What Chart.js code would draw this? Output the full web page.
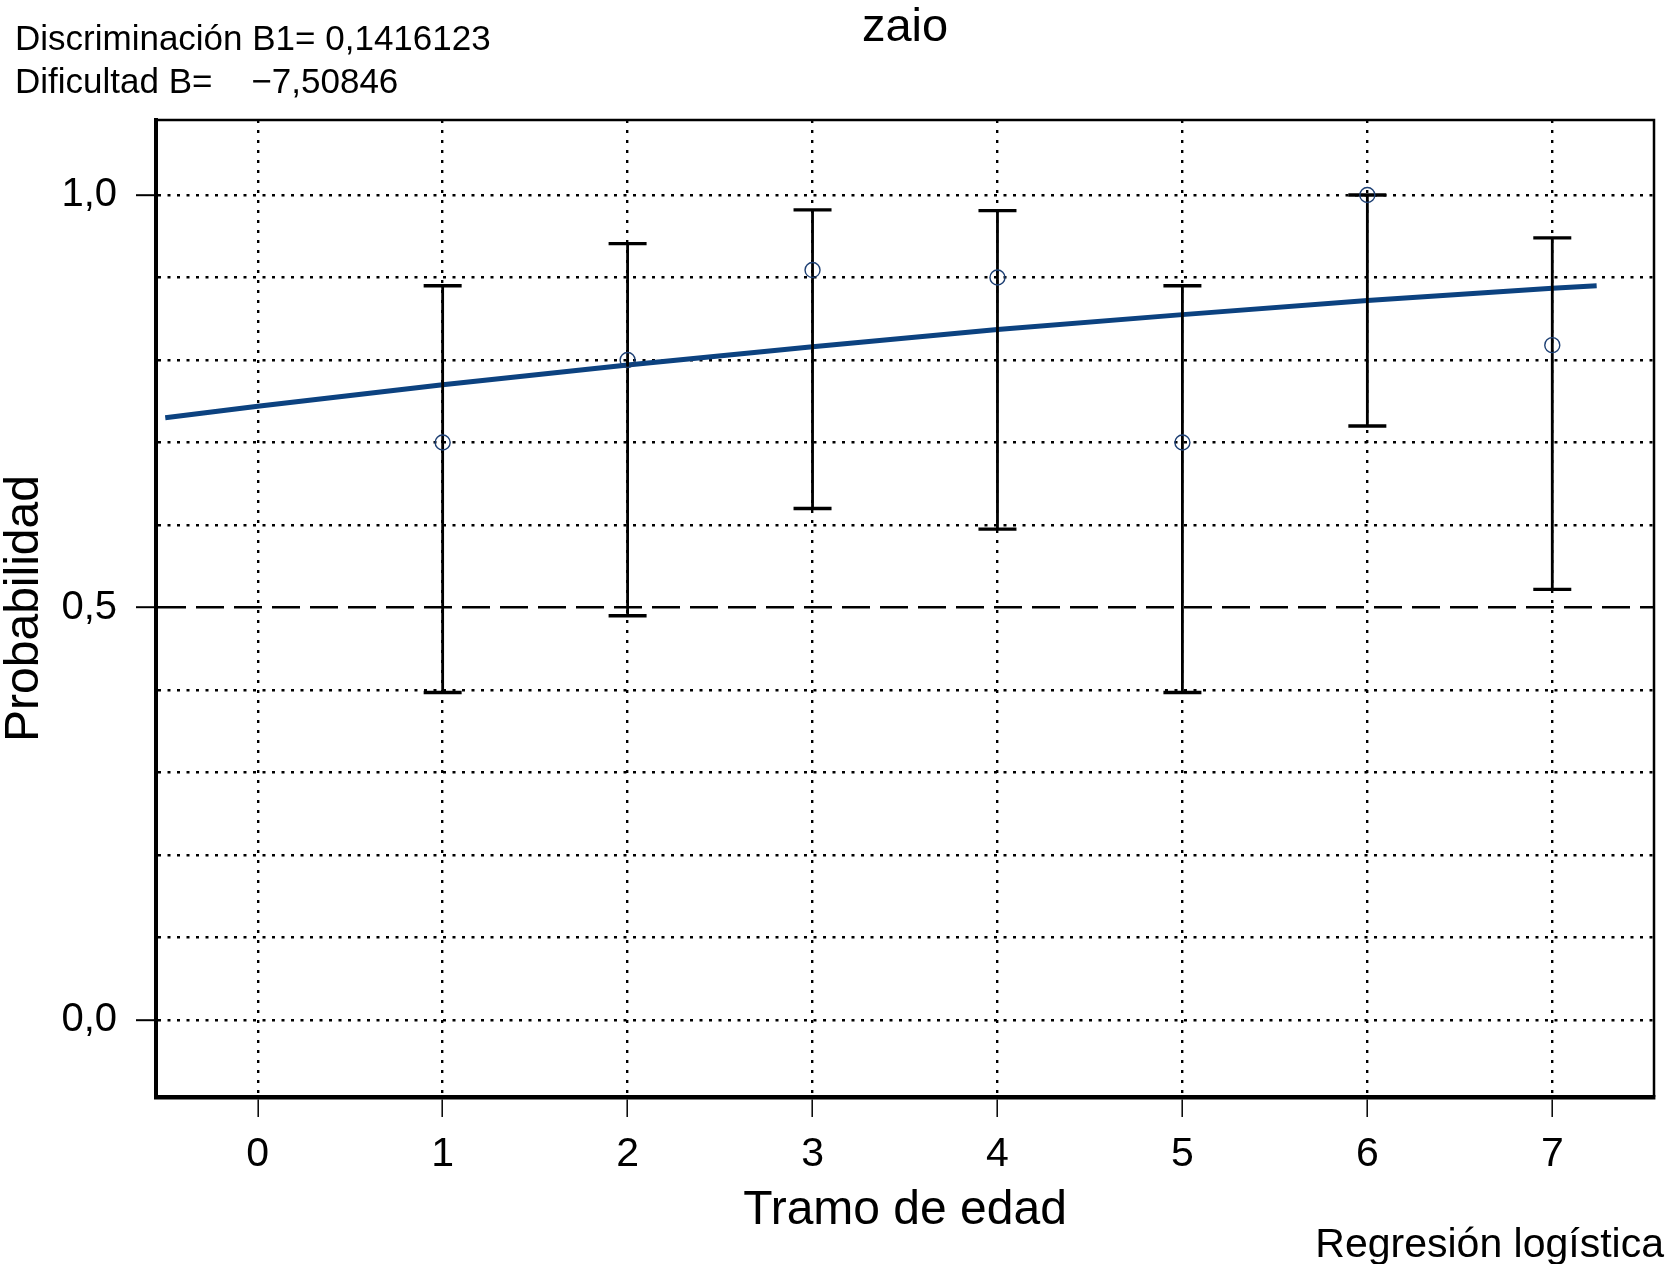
<!DOCTYPE html>
<html lang="es">
<head>
<meta charset="UTF-8">
<title>zaio</title>
<script src="https://cdn.jsdelivr.net/npm/chart.js"></script>
<style>
    html, body { margin: 0; padding: 0; background: #fff; }
    canvas { display: block; }
</style>
</head>
<body>
<canvas id="chart" width="1667" height="1264"></canvas>
<script>
    // observed proportion per age band, with its interval
    const tramos = [1, 2, 3, 4, 5, 6, 7];
    const proporcion = [0.70, 0.80, 0.909, 0.90, 0.70, 1.00, 0.818];
    const icInferior = [0.397, 0.490, 0.620, 0.595, 0.397, 0.720, 0.522];
    const icSuperior = [0.890, 0.941, 0.982, 0.981, 0.890, 1.000, 0.948];

    // fitted logistic curve
    const curvaX = [-0.5, 0, 1, 2, 3, 4, 5, 6, 7, 7.24];
    const curvaP = [0.730, 0.744, 0.770, 0.794, 0.816, 0.837, 0.855, 0.872, 0.887, 0.890];

    const xTicks = [0, 1, 2, 3, 4, 5, 6, 7];
    const yTicks = [0, 0.1, 0.2, 0.3, 0.4, 0.5, 0.6, 0.7, 0.8, 0.9, 1.0];
    const yTickLabels = ['0,0', '', '', '', '', '0,5', '', '', '', '', '1,0'];

    const textoB1 = 'Discriminación B1= 0,1416123';
    const textoB = 'Dificultad B=    \u22127,50846';
    const textoPie = 'Regresión logística';

    const FONT = '"Liberation Sans", Arial, Helvetica, sans-serif';

    const datasets = [{
        label: 'curva',
        data: curvaX.map((x, i) => ({ x: x, y: curvaP[i] })),
        showLine: true,
        borderColor: '#0c4280',
        borderWidth: 5,
        pointRadius: 0,
        tension: 0,
        order: 3
    }];

    // one small dataset per interval: vertical segment plus caps
    tramos.forEach((t, i) => {
        datasets.push({
            label: 'ic' + t,
            data: [{ x: t, y: icInferior[i] }, { x: t, y: icSuperior[i] }],
            showLine: true,
            borderColor: '#000',
            borderWidth: 2.8,
            pointStyle: 'line',
            pointRadius: 19,
            pointBorderWidth: 3.3,
            pointBorderColor: '#000',
            pointHoverRadius: 19,
            order: 2
        });
    });

    datasets.push({
        label: 'observado',
        data: tramos.map((t, i) => ({ x: t, y: proporcion[i] })),
        showLine: false,
        pointStyle: 'circle',
        pointRadius: 7.5,
        pointBorderWidth: 1.4,
        pointBorderColor: '#1d3f73',
        pointBackgroundColor: 'rgba(0,0,0,0)',
        order: 1
    });

    const marco = {
        id: 'marco',
        afterDraw(chart) {
            const { ctx, chartArea: { left, right, top, bottom } } = chart;
            ctx.save();
            ctx.strokeStyle = '#000';
            ctx.lineWidth = 2.5;
            ctx.beginPath();
            ctx.moveTo(left, top);
            ctx.lineTo(right, top);
            ctx.lineTo(right, bottom);
            ctx.stroke();

            ctx.fillStyle = '#000';
            ctx.textBaseline = 'alphabetic';
            ctx.textAlign = 'left';
            ctx.font = '35px ' + FONT;
            ctx.fillText(textoB1, 15, 50);
            ctx.fillText(textoB, 15, 93);

            ctx.textAlign = 'right';
            ctx.font = '41px ' + FONT;
            ctx.fillText(textoPie, 1664, 1257);
            ctx.restore();
        }
    };

    new Chart(document.getElementById('chart'), {
        type: 'scatter',
        data: { datasets },
        options: {
            responsive: false,
            animation: false,
            layout: { autoPadding: false, padding: { left: 0, right: 13, top: 0, bottom: 0 } },
            plugins: {
                legend: { display: false },
                tooltip: { enabled: false },
                title: {
                    display: true,
                    text: 'zaio',
                    fullSize: false,
                    color: '#000',
                    font: { family: FONT, size: 47, weight: 'normal', lineHeight: 1 },
                    padding: { top: 5, bottom: 68 }
                }
            },
            scales: {
                x: {
                    type: 'linear',
                    min: -0.55,
                    max: 7.55,
                    afterBuildTicks: s => { s.ticks = xTicks.map(v => ({ value: v })); },
                    afterFit: s => { s.height = 167; },
                    ticks: {
                        autoSkip: false,
                        maxRotation: 0,
                        padding: 13,
                        color: '#000',
                        font: { family: FONT, size: 41 },
                        callback: v => String(v)
                    },
                    grid: {
                        color: '#000',
                        lineWidth: 2.4,
                        tickLength: 20,
                        tickWidth: 1.5,
                        tickColor: '#000',
                        tickBorderDash: []
                    },
                    border: { display: true, color: '#000', width: 4.5, dash: [3, 7] },
                    title: {
                        display: true,
                        text: 'Tramo de edad',
                        color: '#000',
                        font: { family: FONT, size: 48, lineHeight: 1 },
                        padding: { top: 0, bottom: 29 }
                    }
                },
                y: {
                    type: 'linear',
                    min: -0.0933,
                    max: 1.0909,
                    afterBuildTicks: s => { s.ticks = yTicks.map(v => ({ value: v })); },
                    afterFit: s => { s.width = 156; },
                    ticks: {
                        autoSkip: false,
                        padding: 19,
                        color: '#000',
                        font: { family: FONT, size: 40 },
                        callback: v => yTickLabels[yTicks.indexOf(v)] || ''
                    },
                    grid: {
                        color: '#000',
                        lineWidth: 2.4,
                        tickLength: 20,
                        tickColor: '#000',
                        tickBorderDash: [],
                        tickWidth: c => (c.tick && yTickLabels[yTicks.indexOf(c.tick.value)]) ? 2 : 0
                    },
                    border: {
                        display: true,
                        color: '#000',
                        width: 4,
                        dash: c => (c.tick && c.tick.value === 0.5) ? [28, 10] : [3, 6.5]
                    },
                    title: {
                        display: true,
                        text: 'Probabilidad',
                        color: '#000',
                        font: { family: FONT, size: 48, lineHeight: 1 },
                        padding: { top: 1, bottom: 0 }
                    }
                }
            }
        },
        plugins: [marco]
    });
</script>
</body>
</html>
